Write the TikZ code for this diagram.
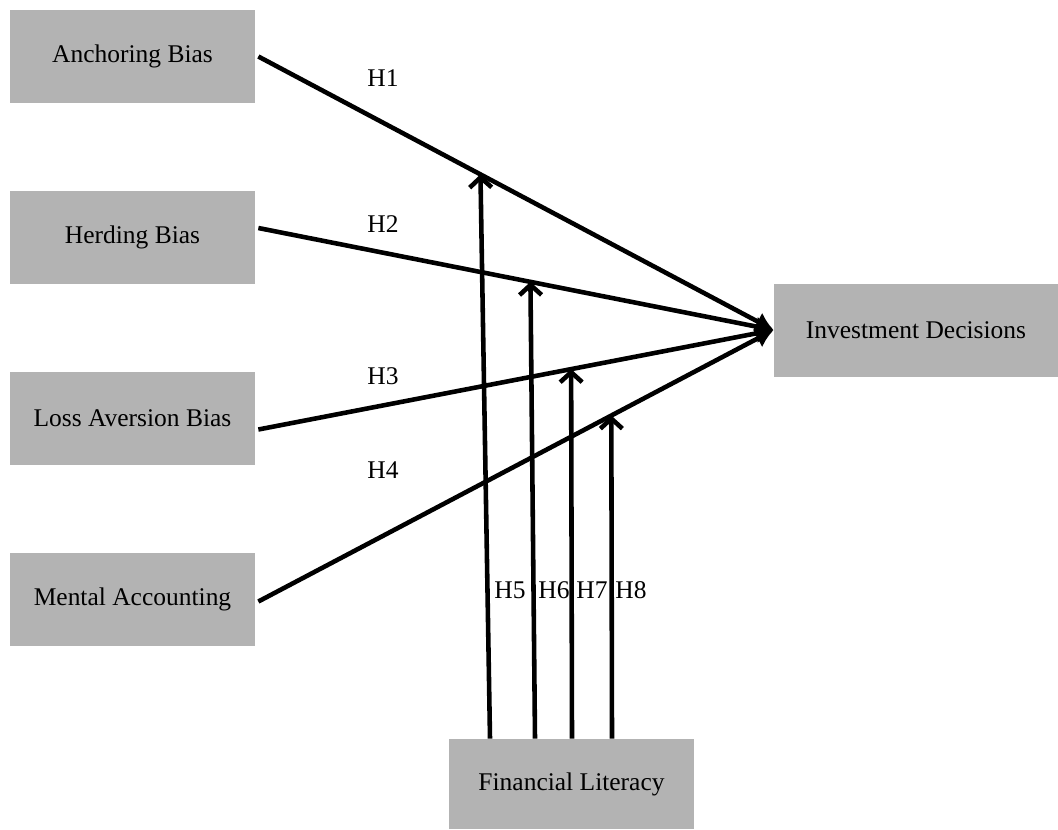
\documentclass[tikz,border=0pt]{standalone}
\usepackage{fontspec}
\setmainfont{Liberation Serif}
\usepackage{tikz}
\usetikzlibrary{arrows.meta,positioning,calc}
\definecolor{boxgray}{HTML}{B3B3B3}

\begin{document}
\begin{tikzpicture}[x=0.2mm,y=-0.2mm,
    varbox/.style={fill=boxgray, minimum width=4.9cm, minimum height=1.86cm, inner sep=0pt,
      font=\fontsize{14.5}{17}\selectfont},
    hyplabel/.style={font=\fontsize{14.5}{17}\selectfont, inner sep=1pt},
    mainpath/.style={line width=2.6pt, -{Latex[length=3.6mm,width=4mm]}},
    modpath/.style={line width=2.6pt, -{Straight Barb[length=2mm,width=4.4mm,line width=2.6pt]}}]
  \useasboundingbox (0,0) rectangle (1058,829);
  % independent variables
  \node[varbox] (anch) at (132.5,56.5) {Anchoring Bias};
  \node[varbox] (herd) at (132.5,237) {Herding Bias};
  \node[varbox] (loss) at (132.5,418.5) {Loss Aversion Bias};
  \node[varbox] (ment) at (132.5,599.5) {Mental Accounting};
  % dependent variable and moderator
  \node[varbox, minimum width=5.68cm] (inv) at (916,330) {Investment Decisions};
  \node[varbox, minimum height=1.8cm] (fin) at (571.5,784) {Financial Literacy};
  % direct paths
  \draw[mainpath] ($(anch.east)+(3,0)$) -- coordinate[pos=0.431] (m1) (inv.west);
  \draw[mainpath] ($(herd.east)+(3,-9)$) -- coordinate[pos=0.528] (m2) (inv.west);
  \draw[mainpath] ($(loss.east)+(3,11)$) -- coordinate[pos=0.607] (m3) (inv.west);
  \draw[mainpath] ($(ment.east)+(3,2)$) -- coordinate[pos=0.685] (m4) (inv.west);
  % moderating paths
  \draw[modpath] ($(fin.north)+(-81.5,0)$) -- (m1);
  \draw[modpath] ($(fin.north)+(-36.5,0)$) -- (m2);
  \draw[modpath] ($(fin.north)+(0.5,0)$) -- (m3);
  \draw[modpath] ($(fin.north)+(40.5,0)$) -- (m4);
  % hypothesis labels
  \node[hyplabel] (h1) at (383,78) {H1};
  \node[hyplabel] (h2) at (383,224) {H2};
  \node[hyplabel] (h3) at (383,376) {H3};
  \node[hyplabel] (h4) at (383,470) {H4};
  \node[hyplabel] (h5) at (510,590) {H5};
  \node[hyplabel] (h6) at (554,590) {H6};
  \node[hyplabel] (h7) at (592,590) {H7};
  \node[hyplabel] (h8) at (631,590) {H8};
\end{tikzpicture}
\end{document}
